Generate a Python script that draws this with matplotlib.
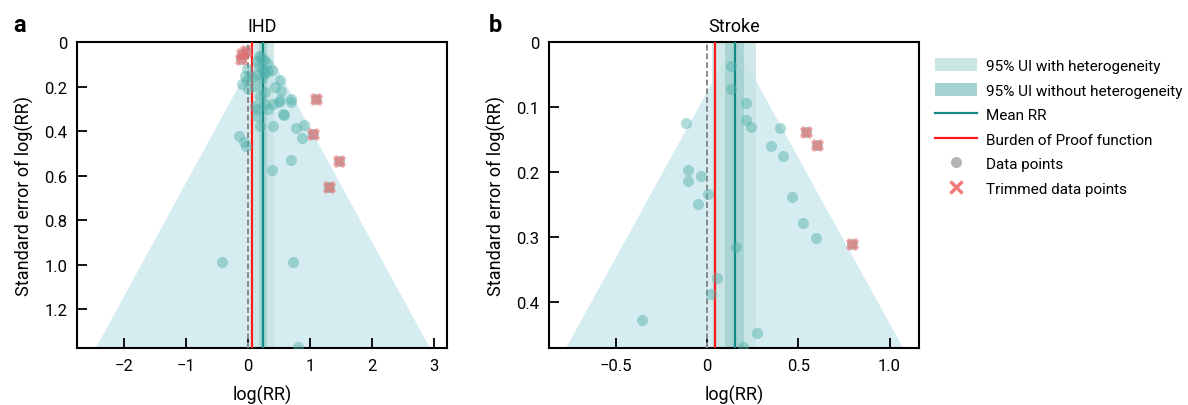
import numpy as np
import matplotlib
matplotlib.use("Agg")
import matplotlib.pyplot as plt
from matplotlib.patches import Patch
from matplotlib.lines import Line2D

plt.rcParams['font.family'] = ['Roboto', 'DejaVu Sans']

# ---------------- IHD data ----------------
ihd_x = [0.21, 0.26, 0.14, 0.30, 0.17, -0.02, 0.38, -0.05, 0.27, 0.13, 0.52, -0.10, 0.11,
         0.22, 0.44, 0.54, 0.0, 0.28, 0.70, 0.52, 0.50, 0.70, 0.11, 0.28, 0.58, 0.15,
         0.33, 0.19, 0.40, 0.77, 0.91, 0.87, -0.14, -0.07, -0.04, 0.69, 0.38, -0.42,
         0.73, 0.80, 0.17, 0.22, 0.25, 0.06, 0.41, 0.14, 0.33, 0.19, 0.57, -0.02]
ihd_se = [0.069, 0.080, 0.084, 0.095, 0.110, 0.121, 0.124, 0.151, 0.140, 0.150, 0.171, 0.189, 0.196,
          0.160, 0.204, 0.219, 0.211, 0.225, 0.256, 0.261, 0.270, 0.270, 0.286, 0.280, 0.328, 0.331,
          0.301, 0.379, 0.379, 0.388, 0.373, 0.433, 0.424, 0.450, 0.467, 0.530, 0.575, 0.987,
          0.990, 1.372, 0.061, 0.121, 0.136, 0.159, 0.279, 0.301, 0.129, 0.241, 0.324, 0.170]
ihd_trim_x = [-0.04, -0.10, -0.12, 1.10, 1.05, 1.47, 1.30]
ihd_trim_se = [0.040, 0.055, 0.075, 0.256, 0.413, 0.536, 0.653]
ihd_mean = 0.24
ihd_bprf = 0.07
ihd_ui_het = (0.10, 0.42)
ihd_ui = (0.17, 0.30)

# ---------------- Stroke data ----------------
stroke_x = [0.128, 0.128, 0.212, 0.212, 0.238, -0.117, 0.399, 0.349, 0.417, -0.108, -0.108,
            -0.033, 0.006, -0.053, 0.463, 0.527, 0.596, 0.156, 0.052, 0.019, -0.358, 0.274, 0.194]
stroke_se = [0.0365, 0.072, 0.0945, 0.120, 0.131, 0.125, 0.133, 0.161, 0.176, 0.198, 0.214,
             0.206, 0.234, 0.249, 0.239, 0.279, 0.302, 0.316, 0.364, 0.388, 0.428, 0.449, 0.4705]
stroke_trim_x = [0.541, 0.600, 0.795]
stroke_trim_se = [0.138, 0.159, 0.312]
stroke_mean = 0.15
stroke_bprf = 0.044
stroke_ui_het = (0.024, 0.27)
stroke_ui = (0.10, 0.20)

funnel_col = '#d5ecf0'
het_col = '#c6e4e3'
ui_col = '#9dcfcd'
mean_col = '#138a84'
pt_col = '#4fb0aa'
trim_col = '#f06a6a'


def funnel(ax, x, se, tx, tse, mean, bprf, ui_het, ui, xlim, ylim, xticks, xticklabels,
           yticks, yticklabels, title):
    ymax = ylim[0]
    # funnel: mean +/- 1.96 * se
    ax.fill([mean, mean - 1.96 * ymax * 1.02, mean + 1.96 * ymax * 1.02],
            [0, ymax * 1.02, ymax * 1.02], color=funnel_col, lw=0, zorder=1)
    ax.axvspan(ui_het[0], ui_het[1], color=het_col, alpha=0.8, lw=0, zorder=2)
    ax.axvspan(ui[0], ui[1], color=ui_col, alpha=0.75, lw=0, zorder=2)
    ax.axvline(0, color='#888888', ls=(0, (3, 1.5)), lw=1.4, zorder=3)
    ax.axvline(bprf, color='#ff1a1a', lw=1.6, zorder=3)
    ax.axvline(mean, color=mean_col, lw=1.6, zorder=3)
    ax.scatter(x, se, s=64, color=pt_col, alpha=0.45, lw=0, zorder=4)
    ax.scatter(tx, tse, s=64, color='#8a8a8a', alpha=0.6, lw=0, zorder=4)
    ax.scatter(tx, tse, s=95, marker='X', color=trim_col, alpha=0.55, lw=0, zorder=5)
    ax.set_xlim(*xlim)
    ax.set_ylim(*ylim)
    ax.set_xticks(xticks)
    ax.set_xticklabels(xticklabels)
    ax.set_yticks(yticks)
    ax.set_yticklabels(yticklabels)
    ax.tick_params(direction='in', length=7, width=1.3, labelsize=12, pad=7)
    for s in ax.spines.values():
        s.set_linewidth(1.5)
    ax.set_xlabel('log(RR)', fontsize=13, labelpad=9)
    ax.set_ylabel('Standard error of log(RR)', fontsize=13, labelpad=7)
    ax.set_title(title, fontsize=13, pad=8)


fig = plt.figure(figsize=(11.88, 4.06), dpi=100)
ax1 = fig.add_axes([0.0648, 0.1404, 0.3114, 0.7537])
ax2 = fig.add_axes([0.4621, 0.1404, 0.3114, 0.7537])

funnel(ax1, ihd_x, ihd_se, ihd_trim_x, ihd_trim_se, ihd_mean, ihd_bprf, ihd_ui_het, ihd_ui,
       (-2.76, 3.21), (1.375, 0), [-2, -1, 0, 1, 2, 3],
       ['\u22122', '\u22121', '0', '1', '2', '3'],
       [0, 0.2, 0.4, 0.6, 0.8, 1.0, 1.2], ['0', '0.2', '0.4', '0.6', '0.8', '1.0', '1.2'], 'IHD')
funnel(ax2, stroke_x, stroke_se, stroke_trim_x, stroke_trim_se, stroke_mean, stroke_bprf,
       stroke_ui_het, stroke_ui, (-0.868, 1.161), (0.4715, 0), [-0.5, 0, 0.5, 1.0],
       ['\u22120.5', '0', '0.5', '1.0'],
       [0, 0.1, 0.2, 0.3, 0.4], ['0', '0.1', '0.2', '0.3', '0.4'], 'Stroke')

fig.text(0.011, 0.922, 'a', fontsize=17, fontweight='bold')
fig.text(0.411, 0.922, 'b', fontsize=17, fontweight='bold')

handles = [Patch(color=het_col, alpha=0.9, lw=0),
           Patch(color=ui_col, alpha=0.9, lw=0),
           Line2D([], [], color=mean_col, lw=1.6),
           Line2D([], [], color='#ff1a1a', lw=1.6),
           Line2D([], [], ls='', marker='o', ms=8, color='#b5b5b5', mec='none'),
           Line2D([], [], ls='', marker='x', ms=9, mew=2.5, color='#f47a7a')]
labels = ['95% UI with heterogeneity', '95% UI without heterogeneity', 'Mean RR',
          'Burden of Proof function', 'Data points', 'Trimmed data points']
fig.legend(handles, labels, loc='upper left', bbox_to_anchor=(0.778, 0.88), frameon=False,
           fontsize=11, handlelength=2.75, handleheight=0.9, labelspacing=0.65, handletextpad=0.6,
           borderpad=0.2)

fig.savefig('out.png', dpi=100)
